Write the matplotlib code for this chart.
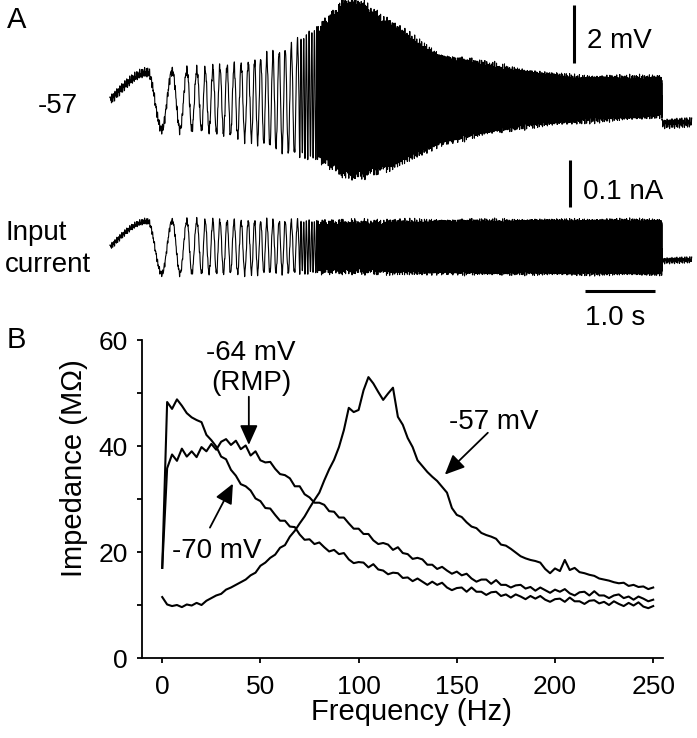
import numpy as np
import matplotlib.pyplot as plt

plt.rcParams['font.family'] = ['Liberation Sans', 'DejaVu Sans']
plt.rcParams['path.simplify'] = False

# ---- panel B: impedance curves every 2.5 Hz ----
freq = np.arange(0, 250.1, 2.5)
z_m70 = [17.0, 48.3, 47.0, 48.8, 47.6, 46.2, 45.4, 44.9, 44.5, 42.1,
         41.1, 39.9, 38.0, 37.5, 35.5, 34.4, 32.8, 32.4, 31.6, 30.1,
         29.6, 28.3, 28.2, 27.0, 25.9, 25.9, 24.8, 24.7, 23.3, 22.3,
         22.4, 21.5, 21.8, 20.9, 20.1, 20.4, 19.6, 19.8, 18.6, 17.9,
         18.1, 18.0, 17.1, 17.7, 16.7, 16.5, 15.8, 16.1, 16.0, 15.1,
         15.2, 14.5, 15.0, 14.4, 13.8, 14.4, 13.8, 14.2, 13.3, 12.8,
         13.2, 13.3, 12.5, 13.3, 12.5, 12.5, 11.9, 12.4, 12.5, 11.7,
         12.0, 11.4, 12.0, 11.6, 11.1, 11.7, 11.2, 11.7, 11.0, 10.6,
         11.1, 11.2, 10.6, 11.4, 10.7, 10.7, 10.2, 10.8, 10.9, 10.3,
         10.6, 10.0, 10.7, 10.2, 9.8, 10.4, 9.9, 10.5, 9.7, 9.4,
         9.8]
z_m64 = [17.0, 35.8, 38.4, 37.2, 39.5, 38.0, 39.0, 37.9, 39.8, 39.0,
         40.4, 39.3, 40.8, 41.3, 40.2, 41.0, 39.4, 40.1, 38.2, 39.0,
         37.3, 36.9, 37.0, 35.7, 34.7, 34.5, 33.9, 32.4, 32.4, 30.9,
         30.3, 29.3, 29.3, 28.9, 27.7, 27.6, 26.5, 26.5, 25.4, 24.4,
         24.4, 23.4, 23.4, 22.2, 21.5, 21.7, 21.4, 20.4, 20.9, 19.8,
         19.6, 18.7, 18.9, 18.6, 17.6, 17.6, 16.8, 17.2, 16.5, 15.9,
         16.3, 15.6, 15.9, 15.0, 14.4, 14.8, 14.8, 14.0, 14.7, 13.8,
         13.8, 13.3, 13.7, 13.8, 13.1, 13.4, 12.7, 13.3, 12.8, 12.3,
         12.9, 12.5, 13.0, 12.2, 11.8, 12.4, 12.5, 11.8, 12.6, 11.8,
         11.8, 11.3, 11.8, 12.0, 11.3, 11.6, 11.0, 11.6, 11.2, 10.7,
         11.0]
z_m57 = [11.5, 10.1, 9.8, 10.0, 9.6, 10.1, 9.9, 10.4, 10.0, 10.8,
         11.3, 11.8, 12.1, 12.9, 13.3, 13.8, 14.3, 14.8, 15.6, 16.1,
         17.4, 18.0, 18.9, 19.5, 20.8, 21.3, 22.9, 24.0, 25.4, 26.7,
         28.3, 29.8, 31.2, 33.5, 35.6, 37.4, 39.8, 43.0, 47.2, 46.4,
         46.8, 50.5, 53.0, 51.8, 50.2, 48.7, 49.9, 51.0, 45.5, 44.0,
         41.5, 39.8, 37.3, 36.2, 35.1, 34.2, 33.4, 32.3, 31.2, 28.3,
         27.0, 26.6, 25.6, 24.8, 24.5, 23.6, 23.2, 22.9, 22.5, 21.4,
         21.2, 20.6, 19.9, 19.2, 18.8, 18.5, 18.3, 18.0, 16.8, 16.0,
         16.9, 16.4, 18.5, 16.6, 17.0, 16.2, 16.0, 15.7, 15.5, 15.0,
         14.8, 14.6, 14.3, 14.1, 14.2, 13.6, 13.8, 13.4, 13.5, 13.0,
         13.3]

t_anchor = [0.0, 0.54, 0.74, 0.89, 1.00, 1.10, 1.17, 1.24, 1.31, 1.36,
            1.47, 2.0, 2.7, 2.95, 3.2, 4.0, 5.0, 6.0, 7.0, 7.886]
cycles_anchor = [0.0, 0.25, 0.75, 1.25, 1.75, 2.25, 2.75, 3.25, 3.75, 4.25,
                 5.25, 10.5, 18.5, 25.0, 38.0, 90.0, 190.0, 340.0, 540.0, 760.0]
env_t = [0.0, 0.74, 1.30, 2.00, 2.57, 3.00, 3.36, 3.57, 4.00, 4.71,
         5.43, 6.10, 6.67, 7.40, 7.886]
v_amp = [0.80, 1.00, 1.03, 1.31, 1.83, 2.31, 3.03, 3.03, 2.48, 1.48,
         1.10, 0.83, 0.69, 0.62, 0.59]          # mV
v_mid = [0.0, 0.0, 0.0, -0.03, 0.0, 0.24, 0.41, 0.38, 0.17, 0.0,
         0.07, 0.03, 0.03, 0.07, 0.14]          # mV
i_amp = [0.050, 0.056, 0.056, 0.055, 0.055, 0.054, 0.054, 0.054, 0.054, 0.054,
         0.054, 0.054, 0.054, 0.054, 0.054]     # nA
chirp_end = 7.886
trace_end = 8.31
v_after = -0.79
i_after = -0.028

W, H = 697, 738
fig = plt.figure(figsize=(W / 100, H / 100), dpi=100)


def fx(x):
    return x / W


def fy(y):
    return 1 - y / H


t = np.linspace(0, trace_end, 60000)
phase = 2 * np.pi * np.interp(t, t_anchor, cycles_anchor)
fuzz = (0.45 * np.sin(2 * np.pi * 43 * t) + 0.35 * np.sin(2 * np.pi * 71 * t + 1.0)
        + 0.2 * np.sin(2 * np.pi * 113 * t + 2.0))
on = t <= chirp_end
v = np.where(on, np.interp(t, env_t, v_mid) + np.interp(t, env_t, v_amp) * np.sin(phase), v_after)
v = v + 0.2 * fuzz
cur = np.where(on, np.interp(t, env_t, i_amp) * np.sin(phase), i_after) + 0.008 * fuzz

ax_v = fig.add_axes([fx(100), fy(190), fx(597), 190 / H])
ax_v.plot(t, v, color='k', lw=0.8)
ax_v.plot([6.63, 6.63], [1.28, 3.28], color='k', lw=2.2, solid_capstyle='butt')
ax_v.set_xlim(-10 / 70, 587 / 70)
ax_v.set_ylim(-90 / 29, 100 / 29)
ax_v.axis('off')

ax_i = fig.add_axes([fx(100), fy(310), fx(597), 160 / H])
ax_i.plot(t, cur, color='k', lw=0.8)
ax_i.plot([6.571, 6.571], [0.085, 0.185], color='k', lw=2.2, solid_capstyle='butt')
ax_i.plot([6.786, 7.786], [-0.0936, -0.0936], color='k', lw=2.2, solid_capstyle='butt')
ax_i.set_xlim(-10 / 70, 587 / 70)
ax_i.set_ylim((247 - 310) / 470, (247 - 150) / 470)
ax_i.axis('off')

fs = 20
fig.text(fx(7), fy(28), 'A', fontsize=21, va='baseline')
fig.text(fx(7), fy(348), 'B', fontsize=21, va='baseline')
fig.text(fx(38), fy(113), '-57', fontsize=fs, va='baseline')
fig.text(fx(5), fy(240), 'Input', fontsize=fs, va='baseline')
fig.text(fx(5), fy(272), 'current', fontsize=fs, va='baseline')
fig.text(fx(587), fy(48), '2 mV', fontsize=fs, va='baseline')
fig.text(fx(583), fy(199), '0.1 nA', fontsize=fs, va='baseline')
fig.text(fx(585), fy(325), '1.0 s', fontsize=fs, va='baseline')

# ---- panel B ----
ax = fig.add_axes([fx(142), fy(658), fx(663 - 142), (658 - 340) / H])
ax.plot(freq, z_m70, color='k', lw=1.5)
ax.plot(freq, z_m64, color='k', lw=1.5)
ax.plot(freq, z_m57, color='k', lw=1.5)
ax.set_xlim(-10.3, 255)
ax.set_ylim(0, 60)
ax.spines[['top', 'right']].set_visible(False)
for s in ['left', 'bottom']:
    ax.spines[s].set_linewidth(1.3)
ax.set_xticks([0, 50, 100, 150, 200, 250])
ax.set_yticks([0, 10, 20, 30, 40, 50, 60])
ax.set_yticklabels(['0', '', '20', '', '40', '', '60'])
ax.tick_params(length=3.6, width=1.3, labelsize=19, pad=6.5)
ax.tick_params(axis='x', pad=9)
ax.set_xlabel('Frequency (Hz)', fontsize=21)
ax.set_ylabel('Impedance (MΩ)', fontsize=21)
ax.xaxis.set_label_coords(0.518, -0.125)
ax.yaxis.set_label_coords(-0.1036, 0.597)

arr = dict(arrowstyle='-|>,head_length=0.6,head_width=0.27', color='k', lw=1.3,
           shrinkA=0, shrinkB=0, mutation_scale=20)
ax.text(45.3, 56.2, '-64 mV', fontsize=fs, ha='center', va='baseline')
ax.text(45.3, 50.6, '(RMP)', fontsize=fs, ha='center', va='baseline')
ax.annotate('', xy=(44.1, 40.2), xytext=(44.1, 49.3), arrowprops=arr)
ax.text(27.6, 18.9, '-70 mV', fontsize=fs, ha='center', va='baseline')
ax.annotate('', xy=(36.0, 32.9), xytext=(24.3, 24.6), arrowprops=arr)
ax.text(168.6, 43.2, '-57 mV', fontsize=fs, ha='center', va='baseline')
ax.annotate('', xy=(143.9, 34.6), xytext=(165.8, 42.5), arrowprops=arr)

fig.savefig('out.png', dpi=100)
